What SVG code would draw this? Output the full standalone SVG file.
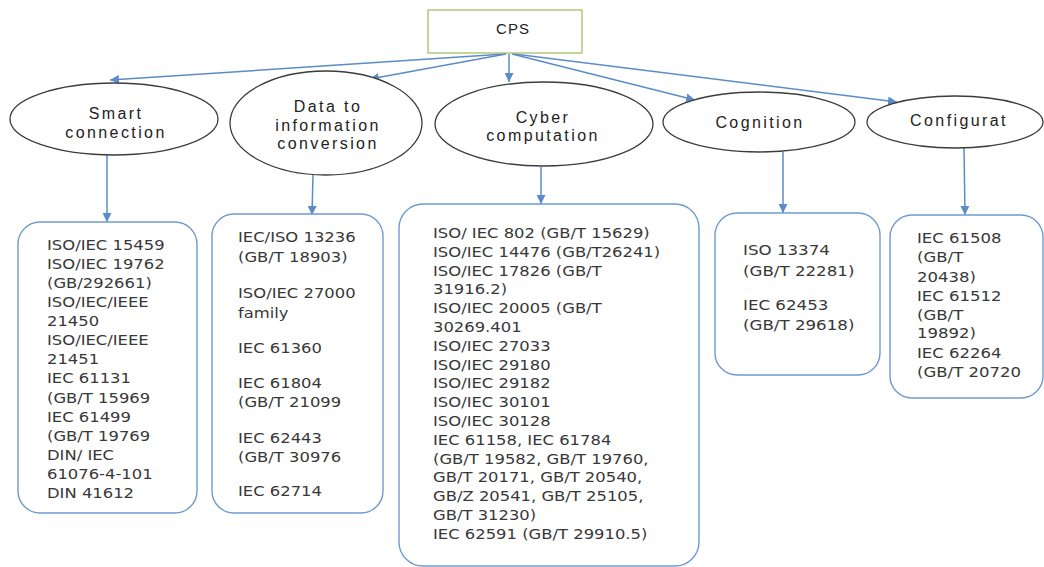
<svg xmlns="http://www.w3.org/2000/svg" width="1044" height="567" viewBox="0 0 1044 567">
<style>
.bg{fill:#ffffff}
.ell{fill:#ffffff;stroke:#3c3c3c;stroke-width:1.3}
.box{fill:#ffffff;stroke:#6d9bd1;stroke-width:1.4}
.conn{fill:none;stroke:#5b8cc8;stroke-width:1.5;marker-end:url(#ah)}
.lbl{font-family:"Liberation Sans",Arial,sans-serif;font-size:16px;letter-spacing:2.4px;fill:#222;text-anchor:middle}
.std{font-family:"DejaVu Sans",sans-serif;font-size:14.5px;fill:#383838}
</style>
<defs>
<marker id="ah" viewBox="0 0 10 10" refX="10" refY="5" markerWidth="9" markerHeight="9" markerUnits="userSpaceOnUse" orient="auto">
<path d="M0,0 L10,5 L0,10 z" fill="#5b8cc8"/>
</marker>
</defs>
<rect class="bg" x="0" y="0" width="1044" height="567"/>

<g id="connectors">
<path class="conn" d="M505,54 L110,80"/>
<path class="conn" d="M506,54 L370,79"/>
<path class="conn" d="M509,54 L509,82"/>
<path class="conn" d="M512,54 L695,100"/>
<path class="conn" d="M514,54 L897,102"/>
<path class="conn" d="M107,155 L107,222"/>
<path class="conn" d="M313,175 L312,215"/>
<path class="conn" d="M541,167 L541,204"/>
<path class="conn" d="M783,152 L783,213"/>
<path class="conn" d="M964,148 L965,215"/>
</g>

<g id="cps">
<rect x="428" y="10" width="154" height="43" fill="#ffffff" stroke="#9bbb59" stroke-width="1.2"/>
<text x="513" y="34" style="font-family:'Liberation Sans',Arial,sans-serif;font-size:15px;fill:#222;text-anchor:middle;letter-spacing:1px">CPS</text>
</g>

<g id="smart-connection">
<ellipse class="ell" cx="114" cy="119" rx="104" ry="36"/>
<text class="lbl" x="116" y="119">Smart</text>
<text class="lbl" x="116" y="138">connection</text>
</g>

<g id="data-to-information">
<ellipse class="ell" cx="326" cy="123" rx="96" ry="52"/>
<text class="lbl" x="328" y="112">Data to</text>
<text class="lbl" x="328" y="131">information</text>
<text class="lbl" x="328" y="149">conversion</text>
</g>

<g id="cyber-computation">
<ellipse class="ell" cx="544" cy="124" rx="109" ry="42"/>
<text class="lbl" x="543" y="123">Cyber</text>
<text class="lbl" x="543" y="141">computation</text>
</g>

<g id="cognition">
<ellipse class="ell" cx="759" cy="122" rx="96" ry="30"/>
<text class="lbl" x="760" y="128">Cognition</text>
</g>

<g id="configuration">
<ellipse class="ell" cx="955" cy="122" rx="88" ry="26"/>
<text class="lbl" x="959" y="126">Configurat</text>
</g>

<g id="box-smart">
<rect class="box" x="18" y="222" width="179" height="291" rx="22"/>
<g transform="translate(47,0) scale(1.13,1)">
<text class="std" x="0" y="250">ISO/IEC 15459</text>
<text class="std" x="0" y="269">ISO/IEC 19762</text>
<text class="std" x="0" y="288">(GB/292661)</text>
<text class="std" x="0" y="307">ISO/IEC/IEEE</text>
<text class="std" x="0" y="326">21450</text>
<text class="std" x="0" y="345">ISO/IEC/IEEE</text>
<text class="std" x="0" y="364">21451</text>
<text class="std" x="0" y="383">IEC 61131</text>
<text class="std" x="0" y="403">(GB/T 15969</text>
<text class="std" x="0" y="422">IEC 61499</text>
<text class="std" x="0" y="441">(GB/T 19769</text>
<text class="std" x="0" y="460">DIN/ IEC</text>
<text class="std" x="0" y="479">61076-4-101</text>
<text class="std" x="0" y="498">DIN 41612</text>
</g>
</g>

<g id="box-data">
<rect class="box" x="212" y="214" width="171" height="299" rx="22"/>
<g transform="translate(238,0) scale(1.13,1)">
<text class="std" x="0" y="242">IEC/ISO 13236</text>
<text class="std" x="0" y="262">(GB/T 18903)</text>
<text class="std" x="0" y="298">ISO/IEC 27000</text>
<text class="std" x="0" y="318">family</text>
<text class="std" x="0" y="353">IEC 61360</text>
<text class="std" x="0" y="388">IEC 61804</text>
<text class="std" x="0" y="407">(GB/T 21099</text>
<text class="std" x="0" y="443">IEC 62443</text>
<text class="std" x="0" y="462">(GB/T 30976</text>
<text class="std" x="0" y="496">IEC 62714</text>
</g>
</g>

<g id="box-cyber">
<rect class="box" x="399" y="204" width="300" height="362" rx="24"/>
<g transform="translate(433,0) scale(1.13,1)">
<text class="std" x="0" y="238">ISO/ IEC 802 (GB/T 15629)</text>
<text class="std" x="0" y="256.8">ISO/IEC 14476 (GB/T26241)</text>
<text class="std" x="0" y="275.6">ISO/IEC 17826 (GB/T</text>
<text class="std" x="0" y="294.4">31916.2)</text>
<text class="std" x="0" y="313.2">ISO/IEC 20005 (GB/T</text>
<text class="std" x="0" y="332">30269.401</text>
<text class="std" x="0" y="350.8">ISO/IEC 27033</text>
<text class="std" x="0" y="369.6">ISO/IEC 29180</text>
<text class="std" x="0" y="388.4">ISO/IEC 29182</text>
<text class="std" x="0" y="407.2">ISO/IEC 30101</text>
<text class="std" x="0" y="426">ISO/IEC 30128</text>
<text class="std" x="0" y="444.8">IEC 61158, IEC 61784</text>
<text class="std" x="0" y="463.6">(GB/T 19582, GB/T 19760,</text>
<text class="std" x="0" y="482.4">GB/T 20171, GB/T 20540,</text>
<text class="std" x="0" y="501.2">GB/Z 20541, GB/T 25105,</text>
<text class="std" x="0" y="520">GB/T 31230)</text>
<text class="std" x="0" y="538.8">IEC 62591 (GB/T 29910.5)</text>
</g>
</g>

<g id="box-cognition">
<rect class="box" x="715" y="213" width="165" height="162" rx="22"/>
<g transform="translate(743,0) scale(1.15,1)">
<text class="std" x="0" y="255">ISO 13374</text>
<text class="std" x="0" y="276">(GB/T 22281)</text>
<text class="std" x="0" y="310">IEC 62453</text>
<text class="std" x="0" y="330">(GB/T 29618)</text>
</g>
</g>

<g id="box-configuration">
<rect class="box" x="890" y="215" width="153" height="183" rx="22"/>
<g transform="translate(917,0) scale(1.14,1)">
<text class="std" x="0" y="243">IEC 61508</text>
<text class="std" x="0" y="262">(GB/T</text>
<text class="std" x="0" y="282">20438)</text>
<text class="std" x="0" y="301">IEC 61512</text>
<text class="std" x="0" y="320">(GB/T</text>
<text class="std" x="0" y="338">19892)</text>
<text class="std" x="0" y="358">IEC 62264</text>
<text class="std" x="0" y="377">(GB/T 20720</text>
</g>
</g>
</svg>
